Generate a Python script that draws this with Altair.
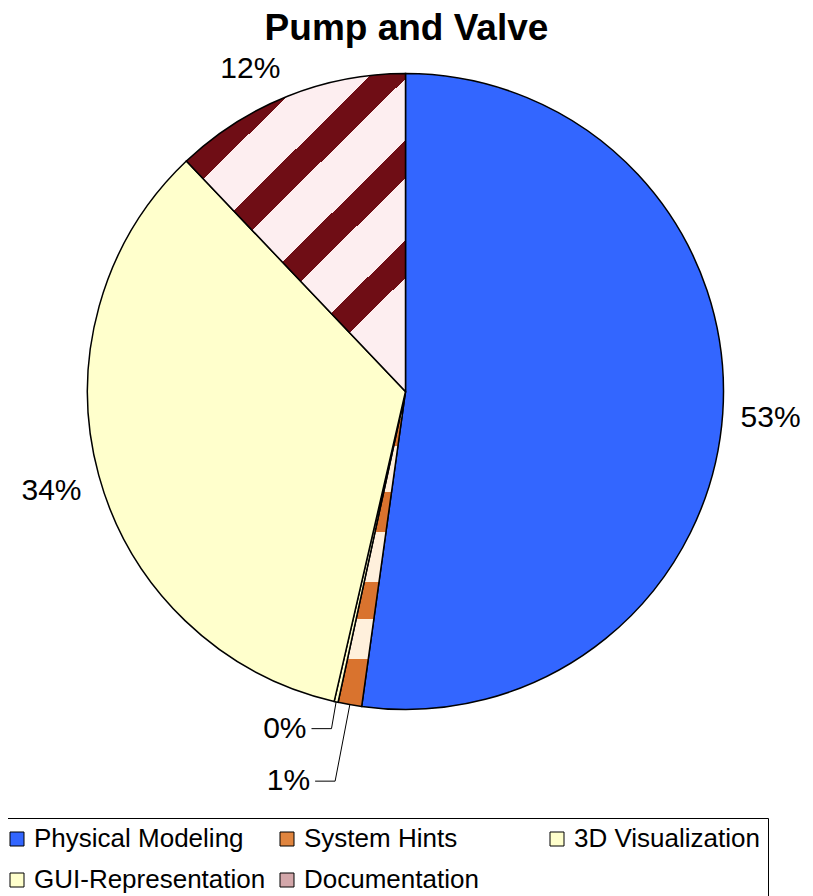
import altair as alt
import pandas as pd

# ---- data ----
categories = ["Physical Modeling", "System Hints", "3D Visualization",
              "GUI-Representation", "Documentation"]
shares = [52.2, 1.2, 0.2, 34.3, 12.1]
labels = ["53%", "1%", "0%", "34%", "12%"]

# ---- styling ----
legend_colors = ["#3366ff", "#e0853f", "#ffffcc", "#ffffcc", "#d3a7aa"]
FONT = "Liberation Sans"
CX, CY, R = 397.5, 333.5, 318.0
LABEL_R = 335.0

doc_bands = [(0.0, 0.049), (0.182, 0.263), (0.395, 0.476), (0.609, 0.690), (0.823, 0.904)]
sh_bands = [(0.086, 0.172), (0.318, 0.446), (0.605, 0.723), (0.85, 1.0)]


def striped(bands, base, ink, x2, y2):
    stops = [{"offset": 0.0, "color": base}]
    for a, b in bands:
        stops += [{"offset": a, "color": base}, {"offset": a, "color": ink},
                  {"offset": b, "color": ink}, {"offset": b, "color": base}]
    stops.append({"offset": 1.0, "color": base})
    return {"gradient": "linear", "x1": 0, "y1": 0, "x2": x2, "y2": y2, "stops": stops}


doc_fill = striped(doc_bands, "#fdeef0", "#6f0d15", 0.68, 1)
sh_fill = striped(sh_bands, "#fff0dc", "#d9732e", 0, 1)

df = pd.DataFrame({"category": categories, "share": shares, "label": labels})

base = (
    alt.Chart(df)
    .transform_window(idx="row_number()")
    .transform_joinaggregate(total="sum(share)")
    .transform_window(cum="sum(share)", sort=[alt.SortField("idx")], frame=[None, 0])
    .transform_calculate(
        t0="2*PI*(datum.cum - datum.share)/datum.total",
        t1="2*PI*datum.cum/datum.total",
        mid="PI*(2*datum.cum - datum.share)/datum.total",
    )
)

fill = alt.Color(
    "category:N",
    scale=alt.Scale(domain=categories, range=legend_colors),
    condition=[
        {"test": "datum.category === 'Documentation'", "value": doc_fill},
        {"test": "datum.category === 'System Hints'", "value": sh_fill},
    ],
    legend=alt.Legend(
        title=None, orient="none", legendX=-12, legendY=760, direction="horizontal",
        columns=3, gridAlign="all", columnPadding=8, rowPadding=15,
        padding=8, strokeColor="black",
        symbolType="square", symbolSize=196, symbolStrokeColor="black",
        symbolStrokeWidth=1, symbolOpacity=1,
        labelFont=FONT, labelFontSize=26, labelColor="black",
        labelOffset=4, labelLimit=400,
    ),
)

pie = base.mark_arc(radius=R, stroke="black", strokeWidth=1.5).encode(
    theta=alt.Theta("t0:Q", scale=None),
    theta2=alt.Theta2("t1:Q"),
    x=alt.value(CX),
    y=alt.value(CY),
    color=fill,
)

# label box touches the ray through the slice middle (Excel-like placement)
big_labels = (
    base.transform_filter("datum.share >= 2")
    .transform_calculate(
        lx=f"{CX} + {LABEL_R}*sin(datum.mid) + clamp(4*sin(datum.mid), -1, 1)*length(datum.label)*10.3",
        ly=f"{CY} - {LABEL_R}*cos(datum.mid) + clamp(-4*cos(datum.mid), -1, 1)*11",
    )
    .mark_text(font=FONT, fontSize=30, color="black", align="center", baseline="middle")
    .encode(
        x=alt.X("lx:Q", scale=None, axis=None),
        y=alt.Y("ly:Q", scale=None, axis=None),
        text="label:N",
    )
)

small = (
    base.transform_filter("datum.share < 2")
    .transform_window(k="row_number()", sort=[alt.SortField("idx", order="descending")])
    .transform_calculate(
        ang="datum.mid + 0.052",
        rr="350 + 50*(datum.k - 1)",
        ax=f"{CX} + datum.rr*sin(datum.ang)",
        ay=f"{CY} - datum.rr*cos(datum.ang)",
        kx="datum.ax + 20",
        ex=f"{CX} + {R}*sin(datum.mid)",
        ey=f"{CY} - {R}*cos(datum.mid)",
    )
)

small_text = small.mark_text(
    font=FONT, fontSize=30, color="black", align="right", baseline="middle", dx=-5
).encode(
    x=alt.X("ax:Q", scale=None, axis=None),
    y=alt.Y("ay:Q", scale=None, axis=None),
    text="label:N",
)

leader1 = small.mark_rule(color="black", strokeWidth=1).encode(
    x=alt.X("ex:Q", scale=None, axis=None),
    y=alt.Y("ey:Q", scale=None, axis=None),
    x2="kx:Q",
    y2="ay:Q",
)
leader2 = small.mark_rule(color="black", strokeWidth=1).encode(
    x=alt.X("kx:Q", scale=None, axis=None),
    y=alt.Y("ay:Q", scale=None, axis=None),
    x2="ax:Q",
    y2="ay:Q",
)

chart = (
    alt.layer(pie, big_labels, leader1, leader2, small_text)
    .properties(
        width=797,
        height=838,
        autosize=alt.AutoSizeParams(type="none"),
        padding={"top": 50, "left": 0, "right": 0, "bottom": 0},
        title=alt.TitleParams(
            "Pump and Valve", font=FONT, fontSize=37, fontWeight="bold",
            color="black", anchor="middle", offset=6,
        ),
    )
    .configure_view(stroke="transparent")
)

chart.save("out.html", embed_options={"renderer": "svg", "actions": False})
